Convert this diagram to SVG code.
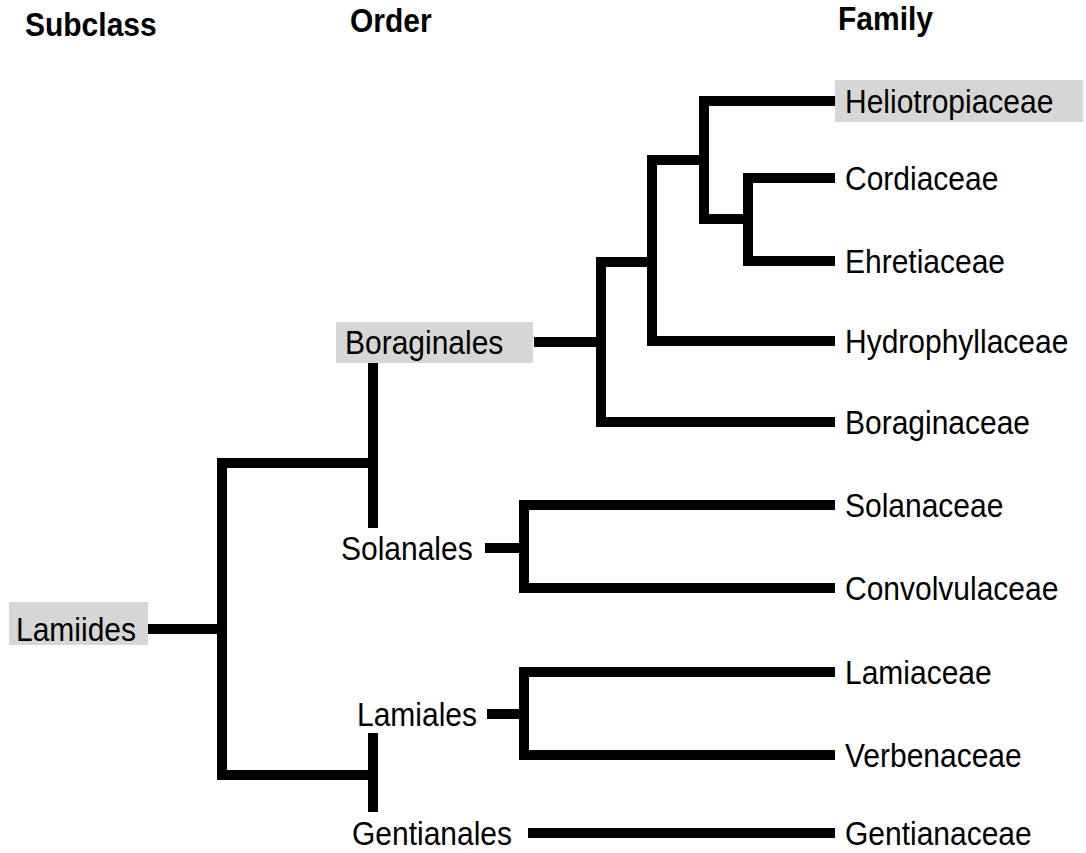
<svg xmlns="http://www.w3.org/2000/svg" width="1086" height="853" viewBox="0 0 1086 853">
<style>
.t{font-family:"Liberation Sans",Arial,sans-serif;font-size:30px;fill:#000}
.h{font-family:"Liberation Sans",Arial,sans-serif;font-size:30px;font-weight:bold;fill:#000}
.hl{fill:#d6d6d6}
.c path{fill:none;stroke:#000;stroke-width:10;stroke-linejoin:miter;stroke-linecap:butt}
</style>
<rect width="1086" height="853" fill="#fff"/>
<g id="headers">
<text class="h" transform="translate(25,36) scale(1,1.1)">Subclass</text>
<text class="h" transform="translate(350,32) scale(1,1.1)">Order</text>
<text class="h" transform="translate(838,30) scale(1,1.1)">Family</text>
</g>
<g class="c" id="connectors">
<path d="M148 629 H222"/>
<path d="M373 463 H222 V775 H373"/>
<path d="M373 362 V528"/>
<path d="M373 733 V812"/>
<path d="M534 342 H601"/>
<path d="M652 262 H601 V422 H835"/>
<path d="M706 160 H652 V341 H835"/>
<path d="M835 101 H704 V219 H748"/>
<path d="M835 178 H748 V261 H835"/>
<path d="M485 548 H524"/>
<path d="M835 505 H524 V588 H835"/>
<path d="M487 714 H524"/>
<path d="M835 672 H524 V755 H835"/>
<path d="M528 833 H835"/>
</g>
<g id="lamiides"><rect class="hl" x="9" y="602" width="139" height="43"/><text class="t" transform="translate(16,641) scale(1,1.1)">Lamiides</text></g>
<g id="boraginales"><rect class="hl" x="336" y="322" width="197" height="41"/><text class="t" transform="translate(345,354) scale(1,1.1)">Boraginales</text></g>
<g id="solanales"><text class="t" transform="translate(341,560) scale(1,1.1)">Solanales</text></g>
<g id="lamiales"><text class="t" transform="translate(357,726) scale(1,1.1)">Lamiales</text></g>
<g id="gentianales"><text class="t" transform="translate(352,845) scale(1,1.1)">Gentianales</text></g>
<g id="heliotropiaceae"><rect class="hl" x="835" y="80" width="248" height="42"/><text class="t" transform="translate(845,113) scale(1,1.1)">Heliotropiaceae</text></g>
<g id="cordiaceae"><text class="t" transform="translate(845,190) scale(1,1.1)">Cordiaceae</text></g>
<g id="ehretiaceae"><text class="t" transform="translate(845,273) scale(1,1.1)">Ehretiaceae</text></g>
<g id="hydrophyllaceae"><text class="t" transform="translate(845,353) scale(1,1.1)">Hydrophyllaceae</text></g>
<g id="boraginaceae"><text class="t" transform="translate(845,434) scale(1,1.1)">Boraginaceae</text></g>
<g id="solanaceae"><text class="t" transform="translate(845,517) scale(1,1.1)">Solanaceae</text></g>
<g id="convolvulaceae"><text class="t" transform="translate(845,600) scale(1,1.1)">Convolvulaceae</text></g>
<g id="lamiaceae"><text class="t" transform="translate(845,684) scale(1,1.1)">Lamiaceae</text></g>
<g id="verbenaceae"><text class="t" transform="translate(845,767) scale(1,1.1)">Verbenaceae</text></g>
<g id="gentianaceae"><text class="t" transform="translate(845,845) scale(1,1.1)">Gentianaceae</text></g>
</svg>
